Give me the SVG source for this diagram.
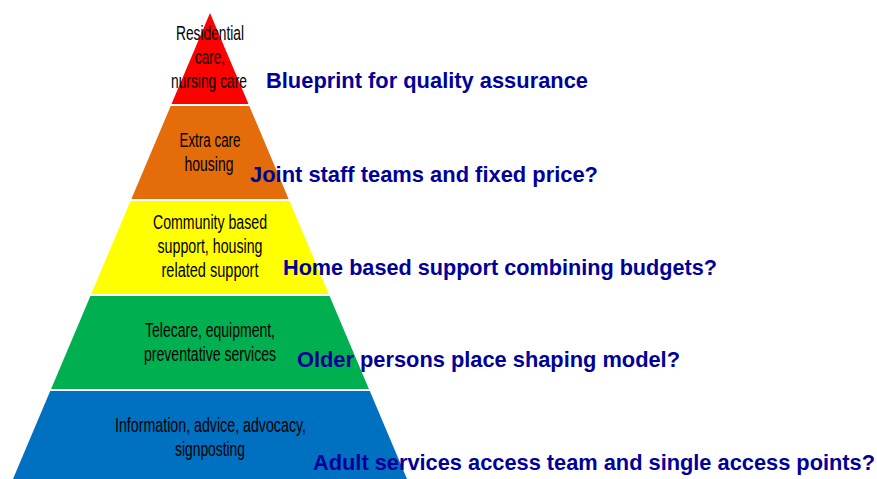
<svg xmlns="http://www.w3.org/2000/svg" width="877" height="479" viewBox="0 0 877 479">
  <style>
    .tier-text { font-family: "Liberation Sans Narrow", "Liberation Sans", Arial, sans-serif; font-size: 20.5px; fill: #000000; text-anchor: middle; }
    .label { font-family: "Liberation Sans", Arial, sans-serif; font-size: 21.8px; font-weight: bold; fill: #000099; }
  </style>
  <rect x="0" y="0" width="877" height="479" fill="#ffffff"/>
  <g id="tier-residential">
    <polygon points="210,13 171.5,104 248.5,104" fill="#FF0000"/>
    <text class="tier-text" x="210" y="40" textLength="68" lengthAdjust="spacingAndGlyphs">Residential</text>
    <text class="tier-text" x="210" y="64" textLength="30" lengthAdjust="spacingAndGlyphs">care,</text>
    <text class="tier-text" x="209" y="88" textLength="76" lengthAdjust="spacingAndGlyphs">nursing care</text>
  </g>
  <g id="tier-extra-care">
    <polygon points="170.7,106 249.3,106 288.6,199 131.4,199" fill="#E46C0A"/>
    <text class="tier-text" x="210" y="147" textLength="61" lengthAdjust="spacingAndGlyphs">Extra care</text>
    <text class="tier-text" x="209" y="171" textLength="49" lengthAdjust="spacingAndGlyphs">housing</text>
  </g>
  <g id="tier-community">
    <polygon points="130.5,201 289.5,201 328.8,294 91.2,294" fill="#FFFF00"/>
    <text class="tier-text" x="210" y="229" textLength="114" lengthAdjust="spacingAndGlyphs">Community based</text>
    <text class="tier-text" x="210" y="253" textLength="105" lengthAdjust="spacingAndGlyphs">support, housing</text>
    <text class="tier-text" x="210" y="277" textLength="97" lengthAdjust="spacingAndGlyphs">related support</text>
  </g>
  <g id="tier-telecare">
    <polygon points="90.4,296 329.6,296 368.9,389 51.1,389" fill="#00B050"/>
    <text class="tier-text" x="210" y="337" textLength="130" lengthAdjust="spacingAndGlyphs">Telecare, equipment,</text>
    <text class="tier-text" x="210" y="361" textLength="132" lengthAdjust="spacingAndGlyphs">preventative services</text>
  </g>
  <g id="tier-information">
    <polygon points="50.2,391 369.8,391 407,479 13,479" fill="#0070C0"/>
    <text class="tier-text" x="210.5" y="432" textLength="191" lengthAdjust="spacingAndGlyphs">Information, advice, advocacy,</text>
    <text class="tier-text" x="210" y="456" textLength="70" lengthAdjust="spacingAndGlyphs">signposting</text>
  </g>
  <g id="label-blueprint">
    <text class="label" x="266" y="88" textLength="322" lengthAdjust="spacingAndGlyphs">Blueprint for quality assurance</text>
  </g>
  <g id="label-joint">
    <text class="label" x="250" y="182" textLength="348" lengthAdjust="spacingAndGlyphs">Joint staff teams and fixed price?</text>
  </g>
  <g id="label-home">
    <text class="label" x="283" y="275" textLength="434" lengthAdjust="spacingAndGlyphs">Home based support combining budgets?</text>
  </g>
  <g id="label-older">
    <text class="label" x="297" y="367" textLength="383" lengthAdjust="spacingAndGlyphs">Older persons place shaping model?</text>
  </g>
  <g id="label-adult">
    <text class="label" x="313" y="470" textLength="562" lengthAdjust="spacingAndGlyphs">Adult services access team and single access points?</text>
  </g>
  <g id="connectors"/>
</svg>
